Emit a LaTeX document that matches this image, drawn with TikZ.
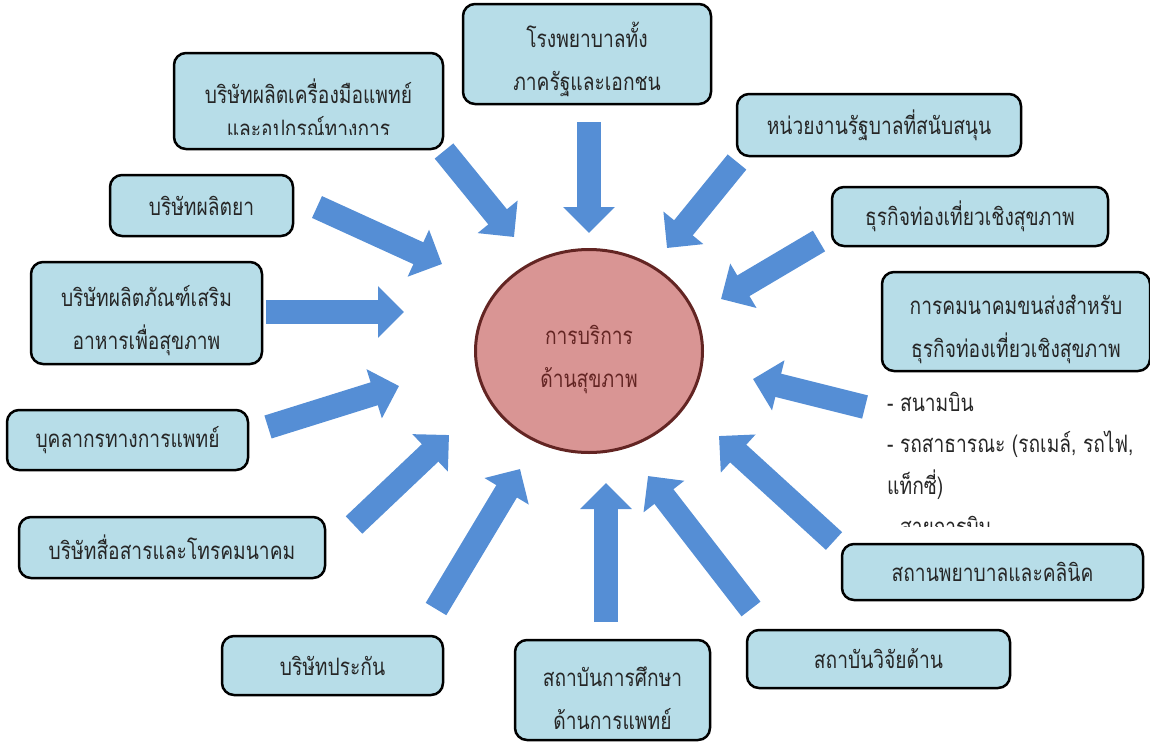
\documentclass[tikz,border=0pt]{standalone}
\usepackage{fontspec}
\setmainfont[Script=Thai, FakeStretch=0.8]{Loma}
\usetikzlibrary{shapes.geometric, arrows.meta, positioning}
\definecolor{boxblue}{RGB}{183,221,232}
\definecolor{flowblue}{RGB}{85,142,213}
\definecolor{corepink}{RGB}{217,149,148}
\definecolor{corered}{RGB}{99,37,35}
\definecolor{inkgray}{RGB}{38,38,38}
\newcommand{\padtop}{\rule{0pt}{36pt}}

\begin{document}
\begin{tikzpicture}[
        x=1pt, y=-1pt,
        box/.style={rectangle, draw=black, line width=2.5pt, fill=boxblue, rounded corners=12pt, inner sep=0pt, align=center, text=inkgray, font=\fontsize{24}{43}\selectfont},
        boxtxt/.style={inner sep=0pt, align=center, text=inkgray, font=\fontsize{24}{34}\selectfont},
        listtxt/.style={inner sep=0pt, align=left, text=inkgray, font=\fontsize{24}{41.5}\selectfont},
        core/.style={ellipse, draw=corered, line width=3pt, fill=corepink, text=corered, align=center, font=\fontsize{24}{43}\selectfont},
        flow/.style={draw=flowblue, line width=24pt, -{Triangle[width=50pt, length=26pt]}}
    ]
        \useasboundingbox (0,0) rectangle (1150,742);

        % centre
        \node[core, minimum width=227pt, minimum height=203pt] (core) at (589,351) {\padtop การบริการ\\ด้านสุขภาพ};

        % boxes round the centre
        \node[box, minimum width=248pt, minimum height=100pt] (hospital) at (587,54) {\padtop โรงพยาบาลทั้ง\\ภาครัฐและเอกชน};
        \node[box, minimum width=269pt, minimum height=96pt] (equip) at (308.5,101) {};
        \begin{scope}
            \clip (176,55) rectangle (441,134);
            \node[boxtxt] (equip-txt) at (308.5,111) {บริษัทผลิตเครื่องมือแพทย์\\และอุปกรณ์ทางการ};
        \end{scope}
        \node[box, minimum width=284pt, minimum height=62pt] (govt) at (879,125) {หน่วยงานรัฐบาลที่สนับสนุน};
        \node[box, minimum width=276pt, minimum height=59pt] (tourism) at (970,216.5) {ธุรกิจท่องเที่ยวเชิงสุขภาพ};
        \node[box, minimum width=268pt, minimum height=99pt] (transport) at (1016,321.5) {\padtop การคมนาคมขนส่งสำหรับ\\ธุรกิจท่องเที่ยวเชิงสุขภาพ};
        \begin{scope}
            \clip (880,380) rectangle (1150,526);
            \node[listtxt, anchor=north west] (modes) at (887,392) {- สนามบิน\\- รถสาธารณะ (รถเมล์, รถไฟ,\\แท็กซี่)\\- สายการบิน};
        \end{scope}
        \node[box, minimum width=301pt, minimum height=56pt] (clinic) at (992.5,572) {สถานพยาบาลและคลินิค};
        \node[box, minimum width=263pt, minimum height=58pt] (research) at (878.5,659) {สถาบันวิจัยด้าน};
        \node[box, minimum width=195pt, minimum height=100pt] (edu) at (612.5,690) {\padtop สถาบันการศึกษา\\ด้านการแพทย์};
        \node[box, minimum width=221pt, minimum height=59pt] (insure) at (332.5,665.5) {บริษัทประกัน};
        \node[box, minimum width=306pt, minimum height=61pt] (telecom) at (172,547.5) {บริษัทสื่อสารและโทรคมนาคม};
        \node[box, minimum width=241pt, minimum height=60pt] (staff) at (127.5,440) {บุคลากรทางการแพทย์};
        \node[box, minimum width=231pt, minimum height=102pt] (food) at (146.5,313) {\padtop บริษัทผลิตภัณฑ์เสริม\\อาหารเพื่อสุขภาพ};
        \node[box, minimum width=183pt, minimum height=61pt] (drug) at (201.5,205.5) {บริษัทผลิตยา};

        % arrow ends
        \coordinate (hospital-tail) at (589,122);  \coordinate (hospital-tip) at (589,233);
        \coordinate (equip-tail) at (444,151);     \coordinate (equip-tip) at (514,237);
        \coordinate (govt-tail) at (737,162);      \coordinate (govt-tip) at (667,248);
        \coordinate (tourism-tail) at (819,241);   \coordinate (tourism-tip) at (721,299);
        \coordinate (transport-tail) at (865,407); \coordinate (transport-tip) at (753,379);
        \coordinate (clinic-tail) at (834,541);    \coordinate (clinic-tip) at (719,436);
        \coordinate (research-tail) at (751,609);  \coordinate (research-tip) at (648,476);
        \coordinate (edu-tail) at (606,622);       \coordinate (edu-tip) at (606,483);
        \coordinate (insure-tail) at (436,609);    \coordinate (insure-tip) at (520,469);
        \coordinate (telecom-tail) at (354,525);   \coordinate (telecom-tip) at (449,435);
        \coordinate (staff-tail) at (268,427);     \coordinate (staff-tip) at (399,386);
        \coordinate (food-tail) at (266,312);      \coordinate (food-tip) at (404,312);
        \coordinate (drug-tail) at (317,207);      \coordinate (drug-tip) at (442,264);

        \foreach \n in {hospital, equip, govt, tourism, transport, clinic, research, edu, insure, telecom, staff, food, drug}
            \draw[flow] (\n-tail) -- (\n-tip);
    \end{tikzpicture}
\end{document}
